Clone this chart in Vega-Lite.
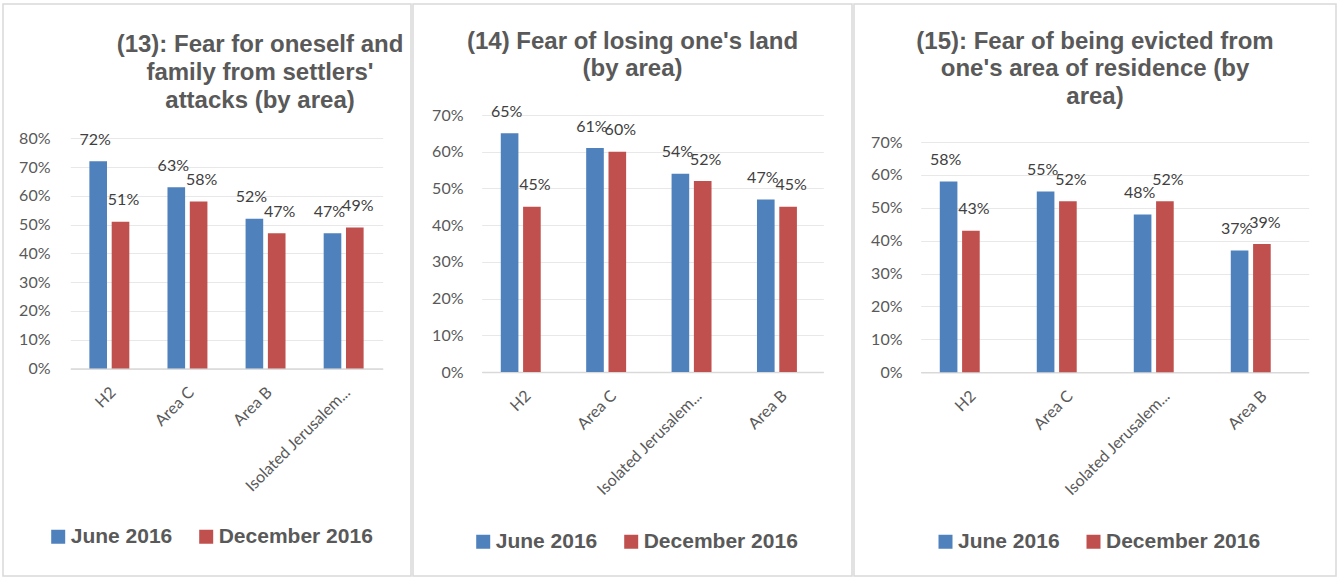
{
  "$schema": "https://vega.github.io/schema/vega-lite/v6.json",
  "padding": {"left": 2, "top": 3, "right": 0, "bottom": 0},
  "background": "white",
  "spacing": 0,
  "config": {
    "view": {"stroke": "#d9d9d9", "strokeWidth": 1.5},
    "font": "Lato",
    "title": {"font": "Liberation Sans", "fontSize": 24, "fontWeight": "bold", "color": "#595959", "anchor": "middle", "frame": "group", "lineHeight": 27.6, "baseline": "bottom"},
    "axis": {"labelFont": "Lato", "labelFontSize": 16, "labelColor": "#595959", "ticks": false, "tickSize": 0, "domain": false, "grid": false, "labelOverlap": false},
    "axisX": {"domain": true, "domainColor": "#d9d9d9", "domainWidth": 1.5, "labelAngle": -45, "labelAlign": "right", "labelBaseline": "middle", "labelPadding": 21, "labelOffset": 4},
    "axisY": {"grid": true, "gridColor": "#e8e8e8", "gridWidth": 1, "labelPadding": 2},
    "legend": {"orient": "none", "direction": "horizontal", "symbolType": "square", "symbolSize": 196, "symbolStrokeWidth": 0, "labelFont": "Liberation Sans", "labelFontSize": 21, "labelFontWeight": "bold", "labelColor": "#595959", "labelOffset": 2, "columnPadding": 23, "padding": 0}
  },
  "datasets": {
    "q13": [
      {"area": "H2", "period": "June 2016", "value": 0.72},
      {"area": "H2", "period": "December 2016", "value": 0.51},
      {"area": "Area C", "period": "June 2016", "value": 0.63},
      {"area": "Area C", "period": "December 2016", "value": 0.58},
      {"area": "Area B", "period": "June 2016", "value": 0.52},
      {"area": "Area B", "period": "December 2016", "value": 0.47},
      {"area": "Isolated Jerusalem...", "period": "June 2016", "value": 0.47},
      {"area": "Isolated Jerusalem...", "period": "December 2016", "value": 0.49}
    ],
    "q14": [
      {"area": "H2", "period": "June 2016", "value": 0.65},
      {"area": "H2", "period": "December 2016", "value": 0.45},
      {"area": "Area C", "period": "June 2016", "value": 0.61},
      {"area": "Area C", "period": "December 2016", "value": 0.60},
      {"area": "Isolated Jerusalem...", "period": "June 2016", "value": 0.54},
      {"area": "Isolated Jerusalem...", "period": "December 2016", "value": 0.52},
      {"area": "Area B", "period": "June 2016", "value": 0.47},
      {"area": "Area B", "period": "December 2016", "value": 0.45}
    ],
    "q15": [
      {"area": "H2", "period": "June 2016", "value": 0.58},
      {"area": "H2", "period": "December 2016", "value": 0.43},
      {"area": "Area C", "period": "June 2016", "value": 0.55},
      {"area": "Area C", "period": "December 2016", "value": 0.52},
      {"area": "Isolated Jerusalem...", "period": "June 2016", "value": 0.48},
      {"area": "Isolated Jerusalem...", "period": "December 2016", "value": 0.52},
      {"area": "Area B", "period": "June 2016", "value": 0.37},
      {"area": "Area B", "period": "December 2016", "value": 0.39}
    ]
  },
  "hconcat": [
    {
      "width": 408, "height": 572,
      "data": {"name": "q13"},
      "title": {"text": ["(13): Fear for oneself and", "family from settlers'", "attacks (by area)"], "dx": 53, "offset": -108.6},
      "encoding": {
        "x": {"field": "area", "type": "nominal", "sort": ["H2", "Area C", "Area B", "Isolated Jerusalem..."], "scale": {"range": [67.3, 379.7], "paddingInner": 0, "paddingOuter": 0}, "axis": {"title": null, "offset": -207.5}},
        "xOffset": {"field": "period", "type": "nominal", "sort": ["June 2016", "December 2016"], "scale": {"paddingInner": 0.21, "paddingOuter": 0.855}},
        "y": {"field": "value", "type": "quantitative", "scale": {"domain": [0, 0.8], "range": [364.5, 134.3], "nice": false}, "axis": {"title": null, "offset": -49, "format": ".0%", "values": [0, 0.1, 0.2, 0.3, 0.4, 0.5, 0.6, 0.7, 0.8]}},
        "color": {"field": "period", "type": "nominal", "sort": ["June 2016", "December 2016"], "scale": {"domain": ["June 2016", "December 2016"], "range": ["#4f81bd", "#c0504d"]}, "legend": {"title": null, "legendX": 44.7, "legendY": 522}}
      },
      "layer": [
        {"mark": {"type": "bar"}},
        {"transform": [{"filter": "datum.period == 'June 2016'"}], "mark": {"type": "text", "baseline": "middle", "dy": -21.5, "dx": -3, "fontSize": 16, "font": "Lato"}, "encoding": {"text": {"field": "value", "type": "quantitative", "format": ".0%"}, "color": {"value": "#404040"}}},
        {"transform": [{"filter": "datum.period == 'December 2016'"}], "mark": {"type": "text", "baseline": "middle", "dy": -21.5, "dx": 3, "fontSize": 16, "font": "Lato"}, "encoding": {"text": {"field": "value", "type": "quantitative", "format": ".0%"}, "color": {"value": "#404040"}}}
      ]
    },
    {
      "width": 439, "height": 572,
      "data": {"name": "q14"},
      "title": {"text": ["(14) Fear of losing one's land", "(by area)"], "offset": -77.2},
      "encoding": {
        "x": {"field": "area", "type": "nominal", "sort": ["H2", "Area C", "Isolated Jerusalem...", "Area B"], "scale": {"range": [68.7, 410.3], "paddingInner": 0, "paddingOuter": 0}, "axis": {"title": null, "offset": -204}},
        "xOffset": {"field": "period", "type": "nominal", "sort": ["June 2016", "December 2016"], "scale": {"paddingInner": 0.21, "paddingOuter": 0.855}},
        "y": {"field": "value", "type": "quantitative", "scale": {"domain": [0, 0.7], "range": [368, 111], "nice": false}, "axis": {"title": null, "offset": -52, "format": ".0%", "values": [0, 0.1, 0.2, 0.3, 0.4, 0.5, 0.6, 0.7]}},
        "color": {"field": "period", "type": "nominal", "sort": ["June 2016", "December 2016"], "scale": {"domain": ["June 2016", "December 2016"], "range": ["#4f81bd", "#c0504d"]}, "legend": {"title": null, "legendX": 59.7, "legendY": 527}}
      },
      "layer": [
        {"mark": {"type": "bar"}},
        {"transform": [{"filter": "datum.period == 'June 2016'"}], "mark": {"type": "text", "baseline": "middle", "dy": -21.5, "dx": -3, "fontSize": 16, "font": "Lato"}, "encoding": {"text": {"field": "value", "type": "quantitative", "format": ".0%"}, "color": {"value": "#404040"}}},
        {"transform": [{"filter": "datum.period == 'December 2016'"}], "mark": {"type": "text", "baseline": "middle", "dy": -21.5, "dx": 3, "fontSize": 16, "font": "Lato"}, "encoding": {"text": {"field": "value", "type": "quantitative", "format": ".0%"}, "color": {"value": "#404040"}}}
      ]
    },
    {
      "width": 482, "height": 572,
      "data": {"name": "q15"},
      "title": {"text": ["(15): Fear of being evicted from", "one's area of residence (by", "area)"], "offset": -104.8},
      "encoding": {
        "x": {"field": "area", "type": "nominal", "sort": ["H2", "Area C", "Isolated Jerusalem...", "Area B"], "scale": {"range": [66.7, 454.7], "paddingInner": 0, "paddingOuter": 0}, "axis": {"title": null, "offset": -203.8}},
        "xOffset": {"field": "period", "type": "nominal", "sort": ["June 2016", "December 2016"], "scale": {"paddingInner": 0.21, "paddingOuter": 0.855}},
        "y": {"field": "value", "type": "quantitative", "scale": {"domain": [0, 0.7], "range": [368.2, 138.1], "nice": false}, "axis": {"title": null, "offset": -50, "format": ".0%", "values": [0, 0.1, 0.2, 0.3, 0.4, 0.5, 0.6, 0.7]}},
        "color": {"field": "period", "type": "nominal", "sort": ["June 2016", "December 2016"], "scale": {"domain": ["June 2016", "December 2016"], "range": ["#4f81bd", "#c0504d"]}, "legend": {"title": null, "legendX": 81, "legendY": 527}}
      },
      "layer": [
        {"mark": {"type": "bar"}},
        {"transform": [{"filter": "datum.period == 'June 2016'"}], "mark": {"type": "text", "baseline": "middle", "dy": -21.5, "dx": -3, "fontSize": 16, "font": "Lato"}, "encoding": {"text": {"field": "value", "type": "quantitative", "format": ".0%"}, "color": {"value": "#404040"}}},
        {"transform": [{"filter": "datum.period == 'December 2016'"}], "mark": {"type": "text", "baseline": "middle", "dy": -21.5, "dx": 3, "fontSize": 16, "font": "Lato"}, "encoding": {"text": {"field": "value", "type": "quantitative", "format": ".0%"}, "color": {"value": "#404040"}}}
      ]
    }
  ],
  "resolve": {"scale": {"color": "independent"}, "legend": {"color": "independent"}}
}
